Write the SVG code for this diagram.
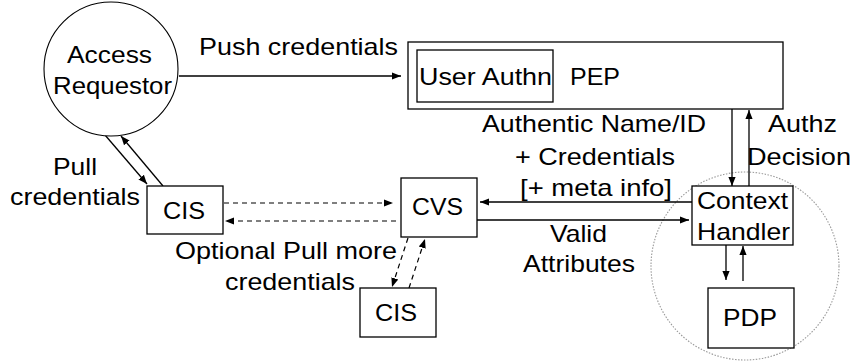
<svg xmlns="http://www.w3.org/2000/svg" width="852" height="362" viewBox="0 0 852 362">
<defs>
<style>
.t{font-family:"Liberation Sans",Arial,sans-serif;font-size:24px;fill:#000}
.box{fill:#fff;stroke:#000;stroke-width:1.3}
.ln{fill:none;stroke:#000;stroke-width:1.3}
.dash{fill:none;stroke:#000;stroke-width:1.2;stroke-dasharray:5,4}
</style>
<marker id="ah" viewBox="0 0 10 10" refX="10" refY="5" markerWidth="9" markerHeight="9" markerUnits="userSpaceOnUse" orient="auto">
<path d="M0,1 L10,5 L0,9 Z" fill="#000"/>
</marker>
</defs>
<rect width="852" height="362" fill="#fff"/>

<g id="domain">
<circle cx="745" cy="266" r="94" fill="none" stroke="#999" stroke-width="1.1" stroke-dasharray="1.5,1.5"/>
</g>

<g id="connectors">
<line class="ln" x1="179" y1="76" x2="401" y2="76" marker-end="url(#ah)"/>
<line class="ln" x1="105" y1="135" x2="147" y2="184" marker-end="url(#ah)"/>
<line class="ln" x1="163" y1="186" x2="121" y2="136" marker-end="url(#ah)"/>
<line class="dash" x1="224" y1="203" x2="393" y2="203" marker-end="url(#ah)"/>
<line class="dash" x1="396" y1="221" x2="225" y2="221" marker-end="url(#ah)"/>
<line class="ln" x1="692" y1="202" x2="480" y2="202" marker-end="url(#ah)"/>
<line class="ln" x1="477" y1="220" x2="689" y2="220" marker-end="url(#ah)"/>
<line class="ln" x1="732" y1="109" x2="732" y2="186" marker-end="url(#ah)"/>
<line class="ln" x1="749" y1="186" x2="749" y2="110" marker-end="url(#ah)"/>
<line class="ln" x1="726" y1="245" x2="726" y2="280" marker-end="url(#ah)"/>
<line class="ln" x1="743" y1="281" x2="743" y2="246" marker-end="url(#ah)"/>
<line class="dash" x1="408" y1="238" x2="392" y2="287" marker-end="url(#ah)"/>
<line class="dash" x1="409" y1="288" x2="425" y2="239" marker-end="url(#ah)"/>
</g>

<g id="access-requestor">
<circle cx="111" cy="69" r="67" fill="#fff" stroke="#000" stroke-width="1.1"/>
<text class="t" x="67" y="63" textLength="85" lengthAdjust="spacingAndGlyphs">Access</text>
<text class="t" x="53" y="94" textLength="119" lengthAdjust="spacingAndGlyphs">Requestor</text>
</g>

<g id="pep">
<rect class="box" x="408" y="42" width="375" height="67"/>
<text class="t" x="570" y="85" textLength="50" lengthAdjust="spacingAndGlyphs">PEP</text>
</g>

<g id="user-authn">
<rect class="box" x="417" y="50" width="136" height="52"/>
<text class="t" x="419" y="85" textLength="133" lengthAdjust="spacingAndGlyphs">User Authn</text>
</g>

<g id="cis-left">
<rect class="box" x="147" y="186" width="76" height="48"/>
<text class="t" x="163" y="219" textLength="42" lengthAdjust="spacingAndGlyphs">CIS</text>
</g>

<g id="cvs">
<rect class="box" x="401" y="178" width="76" height="59"/>
<text class="t" x="412" y="215" textLength="51" lengthAdjust="spacingAndGlyphs">CVS</text>
</g>

<g id="cis-bottom">
<rect class="box" x="360" y="288" width="76" height="49"/>
<text class="t" x="375" y="321" textLength="42" lengthAdjust="spacingAndGlyphs">CIS</text>
</g>

<g id="context-handler">
<rect class="box" x="692" y="186" width="101" height="59"/>
<text class="t" x="697" y="209" textLength="91" lengthAdjust="spacingAndGlyphs">Context</text>
<text class="t" x="697" y="240" textLength="93" lengthAdjust="spacingAndGlyphs">Handler</text>
</g>

<g id="pdp">
<rect class="box" x="708" y="288" width="86" height="60"/>
<text class="t" x="723" y="326" textLength="54" lengthAdjust="spacingAndGlyphs">PDP</text>
</g>

<g id="labels">
<text class="t" x="199" y="55" textLength="199" lengthAdjust="spacingAndGlyphs">Push credentials</text>
<text class="t" x="53" y="175" textLength="44" lengthAdjust="spacingAndGlyphs">Pull</text>
<text class="t" x="10" y="205" textLength="130" lengthAdjust="spacingAndGlyphs">credentials</text>
<text class="t" x="482" y="132" textLength="224" lengthAdjust="spacingAndGlyphs">Authentic Name/ID</text>
<text class="t" x="515" y="165" textLength="160" lengthAdjust="spacingAndGlyphs">+ Credentials</text>
<text class="t" x="520" y="196" textLength="152" lengthAdjust="spacingAndGlyphs">[+ meta info]</text>
<text class="t" x="768" y="132" textLength="69" lengthAdjust="spacingAndGlyphs">Authz</text>
<text class="t" x="747" y="165" textLength="104" lengthAdjust="spacingAndGlyphs">Decision</text>
<text class="t" x="175" y="259" textLength="222" lengthAdjust="spacingAndGlyphs">Optional Pull more</text>
<text class="t" x="225" y="290" textLength="130" lengthAdjust="spacingAndGlyphs">credentials</text>
<text class="t" x="550" y="242" textLength="57" lengthAdjust="spacingAndGlyphs">Valid</text>
<text class="t" x="523" y="272" textLength="112" lengthAdjust="spacingAndGlyphs">Attributes</text>
</g>
</svg>
